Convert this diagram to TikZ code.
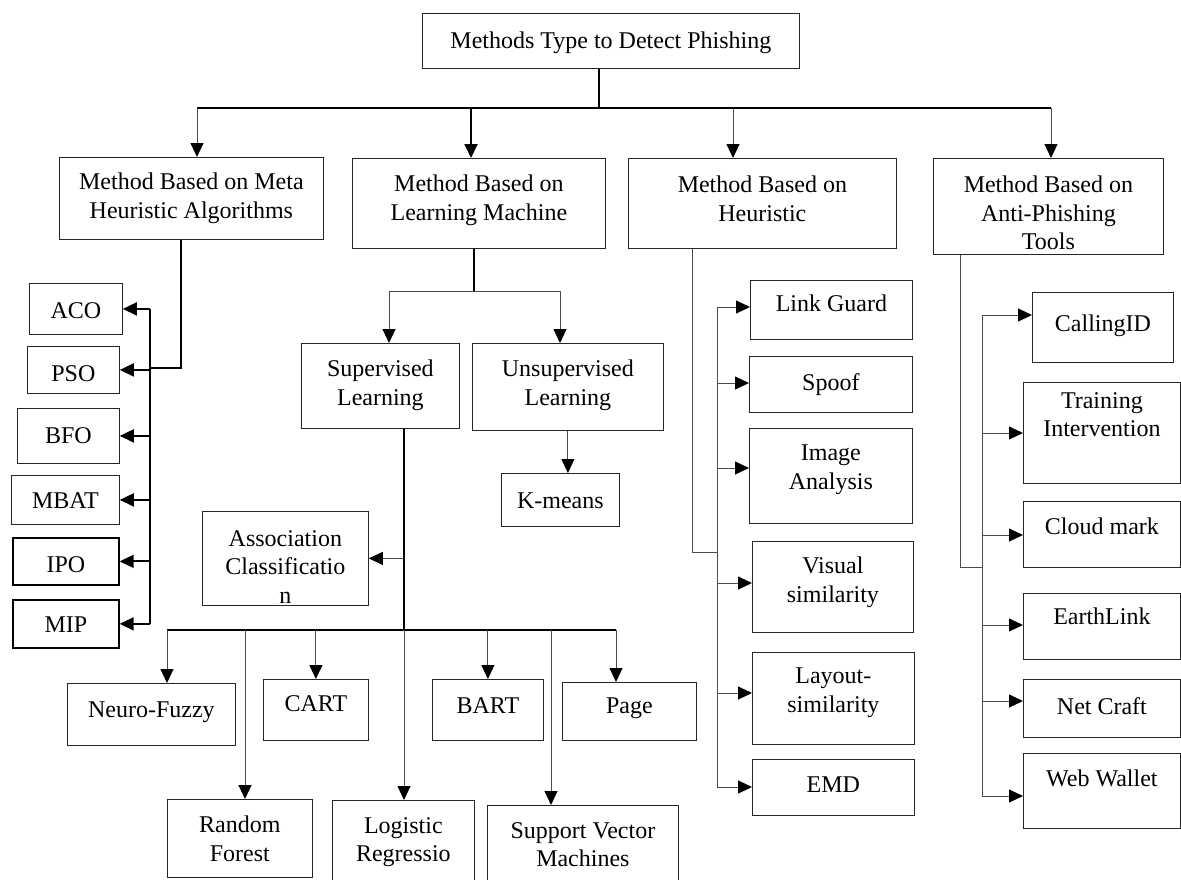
\documentclass[tikz,border=0pt]{standalone}
\usepackage{fontspec}
\setmainfont{Liberation Serif}
\usetikzlibrary{arrows.meta}

\begin{document}
\begin{tikzpicture}[x=1pt, y=-1pt]
  \tikzstyle{box} = [draw=black!85, line width=0.8pt, rectangle, anchor=north west, inner sep=0pt]
  \tikzstyle{bold box} = [box, draw=black, line width=1.7pt]
  \tikzstyle{txt} = [font=\fontsize{24}{28.5}\selectfont, align=center, inner sep=0pt, anchor=north]
  \tikzstyle{arr} = [-{Triangle[length=14pt, width=13pt, color=black]}]
  \tikzstyle{fine line} = [draw=black!70, line width=0.9pt]
  \tikzstyle{bold line} = [draw=black, line width=1.8pt]

  \path[use as bounding box] (0,0) rectangle (1181,879);

  % top and second level
  \node[box, minimum width=377, minimum height=55, label={[txt, yshift=-19pt]north:Methods Type to Detect Phishing}] (title) at (422,13) {};
  \node[box, minimum width=264, minimum height=82, label={[txt, yshift=-16pt]north:Method Based on Meta\\Heuristic Algorithms}] (meta) at (59,157) {};
  \node[box, minimum width=253, minimum height=90, label={[txt, yshift=-17pt]north:Method Based on\\Learning Machine}] (ml) at (352,158) {};
  \node[box, minimum width=268, minimum height=90, label={[txt, yshift=-18pt]north:Method Based on\\Heuristic}] (heur) at (628,158) {};
  \node[box, minimum width=230, minimum height=96, label={[txt, yshift=-18pt]north:Method Based on\\Anti-Phishing\\Tools}] (anti) at (933,158) {};

  % meta heuristic algorithms
  \node[box, minimum width=93, minimum height=51, label={[txt, yshift=-19pt]north:ACO}] (aco) at (29,283) {};
  \node[box, minimum width=92, minimum height=47, label={[txt, yshift=-19pt]north:PSO}] (pso) at (27,346) {};
  \node[box, minimum width=102, minimum height=55, label={[txt, yshift=-19pt]north:BFO}] (bfo) at (17,408) {};
  \node[box, minimum width=108, minimum height=49, label={[txt, yshift=-17pt]north:MBAT}] (mbat) at (11,475) {};
  \node[bold box, minimum width=106, minimum height=47, label={[txt, yshift=-19pt]north:IPO}] (ipo) at (12,537) {};
  \node[bold box, minimum width=106, minimum height=48, label={[txt, yshift=-18pt]north:MIP}] (mip) at (12,599) {};

  % learning machine
  \node[box, minimum width=158, minimum height=85, label={[txt, yshift=-17pt]north:Supervised\\Learning}] (sup) at (301,343) {};
  \node[box, minimum width=191, minimum height=87, label={[txt, yshift=-17pt]north:Unsupervised\\Learning}] (unsup) at (472,343) {};
  \node[box, minimum width=118, minimum height=53, label={[txt, yshift=-20pt]north:K-means}] (kmeans) at (501,473) {};
  \node[box, minimum width=166, minimum height=94, label={[txt, yshift=-19pt]north:Association\\Classificatio\\n}] (assoc) at (202,511) {};
  \node[box, minimum width=168, minimum height=62, label={[txt, yshift=-19pt]north:Neuro-Fuzzy}] (neuro) at (67,683) {};
  \node[box, minimum width=105, minimum height=61, label={[txt, yshift=-16pt]north:CART}] (cart) at (263,679) {};
  \node[box, minimum width=111, minimum height=61, label={[txt, yshift=-18pt]north:BART}] (bart) at (432,679) {};
  \node[box, minimum width=134, minimum height=58, label={[txt, yshift=-16pt]north:Page}] (page) at (562,682) {};
  \node[box, minimum width=145, minimum height=78, label={[txt, yshift=-17pt]north:Random\\Forest}] (rf) at (167,799) {};
  \node[box, minimum width=142, minimum height=85, label={[txt, yshift=-17pt]north:Logistic\\Regressio}] (logreg) at (332,800) {};
  \node[box, minimum width=191, minimum height=80, label={[txt, yshift=-17pt]north:Support Vector\\Machines}] (svm) at (487,805) {};

  % heuristic
  \node[box, minimum width=162, minimum height=59, label={[txt, yshift=-15pt]north:Link Guard}] (link) at (750,280) {};
  \node[box, minimum width=163, minimum height=56, label={[txt, yshift=-17pt]north:Spoof}] (spoof) at (749,356) {};
  \node[box, minimum width=163, minimum height=95, label={[txt, yshift=-17pt]north:Image\\Analysis}] (image) at (749,428) {};
  \node[box, minimum width=161, minimum height=91, label={[txt, yshift=-16pt]north:Visual\\similarity}] (visual) at (752,541) {};
  \node[box, minimum width=162, minimum height=92, label={[txt, yshift=-16pt]north:Layout-\\similarity}] (layout) at (752,652) {};
  \node[box, minimum width=162, minimum height=56, label={[txt, yshift=-18pt]north:EMD}] (emd) at (752,759) {};

  % anti-phishing tools
  \node[box, minimum width=141, minimum height=70, label={[txt, yshift=-23pt]north:CallingID}] (calling) at (1032,292) {};
  \node[box, minimum width=157, minimum height=101, label={[txt, yshift=-10pt]north:Training\\Intervention}] (training) at (1023,382) {};
  \node[box, minimum width=157, minimum height=66, label={[txt, yshift=-17pt]north:Cloud mark}] (cloud) at (1023,501) {};
  \node[box, minimum width=157, minimum height=66, label={[txt, yshift=-15pt]north:EarthLink}] (earth) at (1023,593) {};
  \node[box, minimum width=157, minimum height=58, label={[txt, yshift=-18pt]north:Net Craft}] (netcraft) at (1023,679) {};
  \node[box, minimum width=157, minimum height=75, label={[txt, yshift=-17pt]north:Web Wallet}] (wallet) at (1023,753) {};

  % spine
  \coordinate (barL) at (197,108);
  \coordinate (barR) at (1051,108);
  \coordinate (barM) at (599,108);
  \coordinate (barML) at (471,108);
  \coordinate (barH) at (733,108);
  \draw[bold line] (title.south -| barM) -- (barM);
  \draw[bold line] (barL) -- (barR);
  \draw[fine line, arr] (barL) -- (barL |- meta.north);
  \draw[bold line, arr] (barML) -- (barML |- ml.north);
  \draw[fine line, arr] (barH) -- (barH |- heur.north);
  \draw[fine line, arr] (barR) -- (barR |- anti.north);

  % meta branch
  \coordinate (mstem) at (181,368);
  \coordinate (mbus) at (150,368);
  \draw[bold line] (meta.south -| mstem) -- (mstem) -- (mbus);
  \draw[bold line] (mbus |- aco.east) -- (mbus |- mip.east);
  \draw[bold line, arr] (mbus |- aco.east) -- (aco.east);
  \draw[bold line, arr] (mbus |- pso.east) -- (pso.east);
  \draw[bold line, arr] (mbus |- bfo.east) -- (bfo.east);
  \draw[bold line, arr] (mbus |- mbat.east) -- (mbat.east);
  \draw[bold line, arr] (mbus |- ipo.east) -- (ipo.east);
  \draw[bold line, arr] (mbus |- mip.east) -- (mip.east);

  % learning machine branch
  \coordinate (mlj) at (474,291);
  \coordinate (mlL) at (389,291);
  \coordinate (mlR) at (560,291);
  \draw[bold line] (ml.south -| mlj) -- (mlj);
  \draw[fine line] (mlL) -- (mlR);
  \draw[fine line, arr] (mlL) -- (mlL |- sup.north);
  \draw[fine line, arr] (mlR) -- (mlR |- unsup.north);
  \draw[fine line, arr] (unsup.south) -- (unsup.south |- kmeans.north);

  % supervised branch
  \coordinate (sj) at (404,630);
  \coordinate (sbL) at (167,630);
  \coordinate (sbR) at (616,630);
  \coordinate (sbRF) at (245,630);
  \coordinate (sbSVM) at (551,630);
  \draw[bold line] (sup.south -| sj) -- (sj);
  \draw[fine line, arr] (sj |- assoc.east) -- (assoc.east);
  \draw[bold line] (sbL) -- (sbR);
  \draw[fine line, arr] (sbL) -- (sbL |- neuro.north);
  \draw[fine line, arr] (sbRF) -- (sbRF |- rf.north);
  \draw[fine line, arr] (cart.north |- sj) -- (cart.north);
  \draw[fine line, arr] (sj) -- (sj |- logreg.north);
  \draw[fine line, arr] (bart.north |- sj) -- (bart.north);
  \draw[fine line, arr] (sbSVM) -- (sbSVM |- svm.north);
  \draw[fine line, arr] (sbR) -- (sbR |- page.north);

  % heuristic branch
  \coordinate (hj) at (692,552);
  \coordinate (hlink) at (717,307);
  \coordinate (hspoof) at (717,383);
  \coordinate (himage) at (717,468);
  \coordinate (hvisual) at (717,583);
  \coordinate (hlayout) at (717,693);
  \coordinate (hemd) at (717,787);
  \draw[fine line] (heur.south -| hj) -- (hj) -- (hj -| hlink);
  \draw[fine line] (hlink) -- (hemd);
  \draw[fine line, arr] (hlink) -- (hlink -| link.west);
  \draw[fine line, arr] (hspoof) -- (hspoof -| spoof.west);
  \draw[fine line, arr] (himage) -- (himage -| image.west);
  \draw[fine line, arr] (hvisual) -- (hvisual -| visual.west);
  \draw[fine line, arr] (hlayout) -- (hlayout -| layout.west);
  \draw[fine line, arr] (hemd) -- (hemd -| emd.west);

  % anti-phishing branch
  \coordinate (aj) at (960,567);
  \coordinate (acalling) at (982,315);
  \coordinate (atraining) at (982,433);
  \coordinate (acloud) at (982,535);
  \coordinate (aearth) at (982,625);
  \coordinate (anet) at (982,701);
  \coordinate (awallet) at (982,796);
  \draw[fine line] (anti.south -| aj) -- (aj) -- (aj -| acalling);
  \draw[fine line] (acalling) -- ([yshift=-1pt]awallet);
  \draw[fine line, arr] (acalling) -- (acalling -| calling.west);
  \draw[fine line, arr] (atraining) -- (atraining -| training.west);
  \draw[fine line, arr] (acloud) -- (acloud -| cloud.west);
  \draw[fine line, arr] (aearth) -- (aearth -| earth.west);
  \draw[fine line, arr] (anet) -- (anet -| netcraft.west);
  \draw[fine line, arr] (awallet) -- (awallet -| wallet.west);
\end{tikzpicture}
\end{document}
